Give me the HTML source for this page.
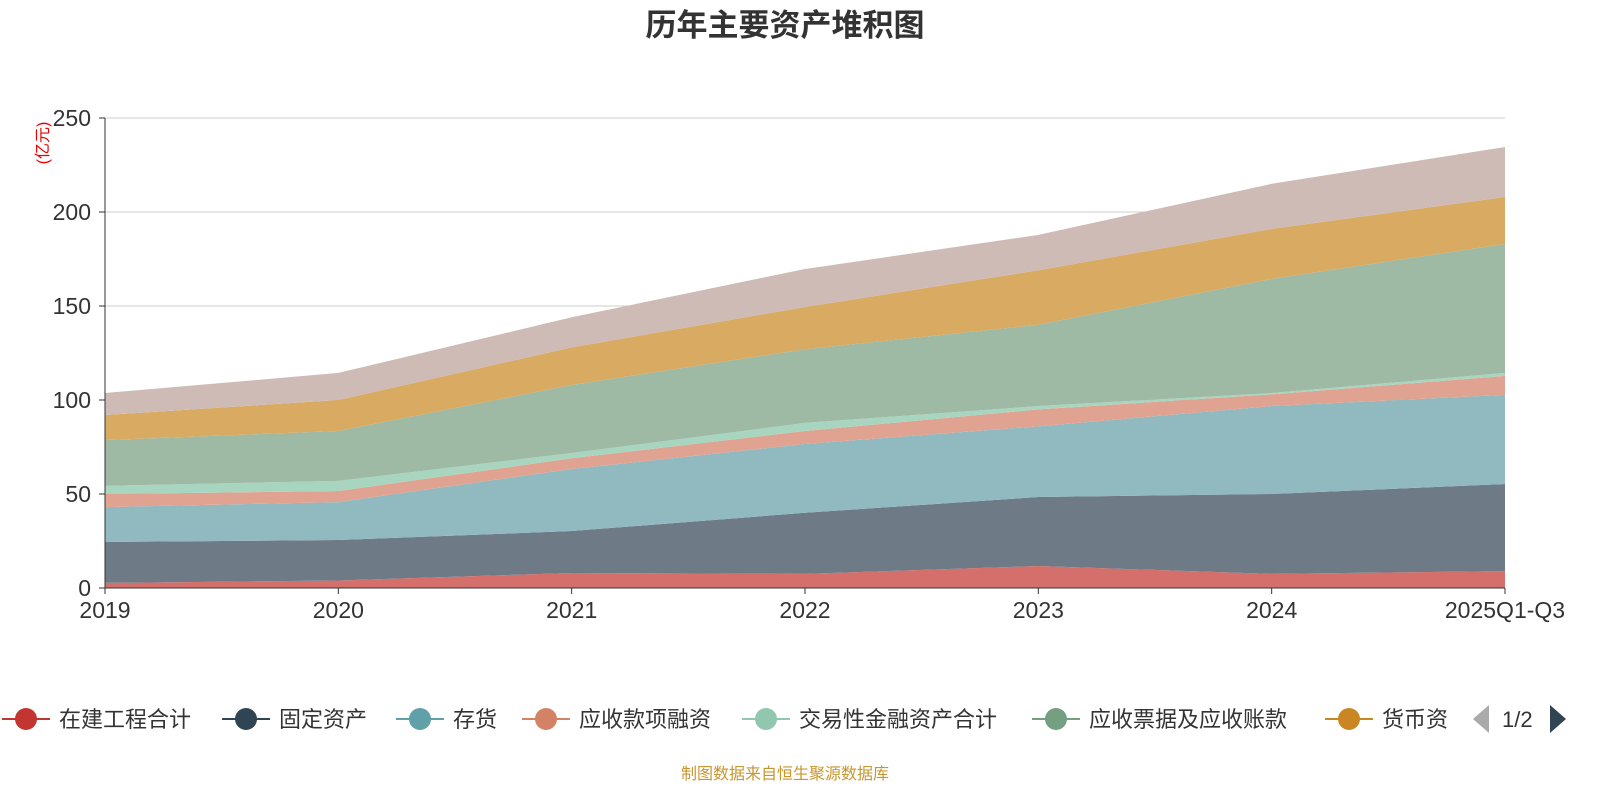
<!DOCTYPE html>
<html><head><meta charset="utf-8">
<style>
body{margin:0;background:#fff;width:1600px;height:800px;overflow:hidden;font-family:"Liberation Sans","Noto Sans CJK SC",sans-serif;}
</style></head>
<body>
<svg id="chart" width="1600" height="800" xmlns="http://www.w3.org/2000/svg" font-family="Liberation Sans, Noto Sans CJK SC, sans-serif">
<text x="785" y="36" text-anchor="middle" font-size="31" font-weight="bold" fill="#333">历年主要资产堆积图</text>
<text transform="translate(48,143) rotate(-90)" text-anchor="middle" font-size="16" fill="#e00">(亿元)</text>
<g id="grid"></g><g id="areas"></g><g id="axes"></g><g id="legend"></g>
<text x="785" y="779" text-anchor="middle" font-size="16" fill="#c8962e">制图数据来自恒生聚源数据库</text>
</svg>
<script>
const categories=["2019","2020","2021","2022","2023","2024","2025Q1-Q3"];
const seriesNames=["在建工程合计","固定资产","存货","应收款项融资","交易性金融资产合计","应收票据及应收账款","货币资金","其他"];
const s1=[2.7,4,8,7.5,11.7,7.5,9];
const s2=[21.8,21.5,22.3,32.5,36.7,42.5,46.3];
const s3=[18.5,20.2,33,36.6,37.6,46.8,47.4];
const s4=[7,5.9,5.7,6.9,9,6.2,10.1];
const s5=[4.3,5.4,2.8,4.3,1.8,0.7,1.6];
const s6=[24.4,26.5,36.2,39.2,43.2,60.7,68.6];
const s7=[13.3,16.5,20,22.5,29,26.6,25];
const s8=[11.7,14.4,16,20.2,18.8,24,26.6];
const yTicks=[0,50,100,150,200,250];
const series=[s1,s2,s3,s4,s5,s6,s7,s8];
const fills=["#d46f6b","#6e7b87","#91b9c0","#e0a392","#a8d5bf","#9eb9a4","#d8aa62","#cfbbb6"];
const lineCols=["#c23531","#2f4554","#61a0a8","#d48265","#91c7ae","#749f83","#ca8622"];
const NS="http://www.w3.org/2000/svg";
const X0=105,X1=1505,Y0=588,Y1=118,YMAX=250;
const x=i=>X0+i*(X1-X0)/(categories.length-1);
const y=v=>Y0-v/YMAX*(Y0-Y1);
function mk(t,a,p){const e=document.createElementNS(NS,t);for(const k in a)e.setAttribute(k,a[k]);p.appendChild(e);return e;}
const grid=document.getElementById('grid'),axes=document.getElementById('axes'),areas=document.getElementById('areas'),legend=document.getElementById('legend');
yTicks.forEach(t=>{
 if(t>0){const g=mk('line',{x1:X0,x2:X1,y1:y(t),y2:y(t),stroke:'#ccc','stroke-width':1},grid);
 
 }
 const tx=mk('text',{x:X0-14,y:y(t)+8,'text-anchor':'end','font-size':23,fill:'#333'},axes);tx.textContent=t;
 
 
 const tk=mk('line',{x1:X0-6,x2:X0,y1:y(t),y2:y(t),stroke:'#333'},axes);
 
 
});
let base=categories.map(()=>0);
series.forEach((s,k)=>{
 const top=base.map((b,i)=>b+s[i]);
 let d='M'+top.map((v,i)=>x(i)+','+y(v)).join('L');
 for(let i=categories.length-1;i>=0;i--)d+='L'+x(i)+','+y(base[i]);
 const p=mk('path',{d:d+'Z',fill:fills[k],stroke:'none'},areas);
 
 
 base=top;
});
const ya=mk('line',{x1:X0,x2:X0,y1:Y1,y2:Y0,stroke:'#333'},axes);


const xa=mk('line',{x1:X0,x2:X1,y1:Y0,y2:Y0,stroke:'#333'},axes);


categories.forEach((c,i)=>{
 const t=mk('text',{x:x(i),y:Y0+30,'text-anchor':'middle','font-size':23,fill:'#333'},axes);t.textContent=c;
 
 
 const tk=mk('line',{x1:x(i),x2:x(i),y1:Y0,y2:Y0+6,stroke:'#333'},axes);
 
 
});
const legX=[2,222,396,522,742,1032,1325];
lineCols.forEach((c,k)=>{
 const g=mk('g',{},legend);
 
 
 const lx=legX[k];
 mk('line',{x1:lx,x2:lx+48,y1:719,y2:719,stroke:c,'stroke-width':2},g);
 mk('circle',{cx:lx+24,cy:719,r:11,fill:c},g);
 const t=mk('text',{x:lx+57,y:727,'font-size':22,fill:'#333'},g);
 t.textContent=k==6?'货币资':seriesNames[k];
});
const pl=mk('polygon',{points:'1473,719 1489,705 1489,733',fill:'#aaa'},legend);


const pt=mk('text',{x:1502,y:727,'font-size':22,fill:'#333'},legend);pt.textContent='1/2';


const pn=mk('polygon',{points:'1566,719 1550,705 1550,733',fill:'#2f4554'},legend);


</script>
</body></html>
